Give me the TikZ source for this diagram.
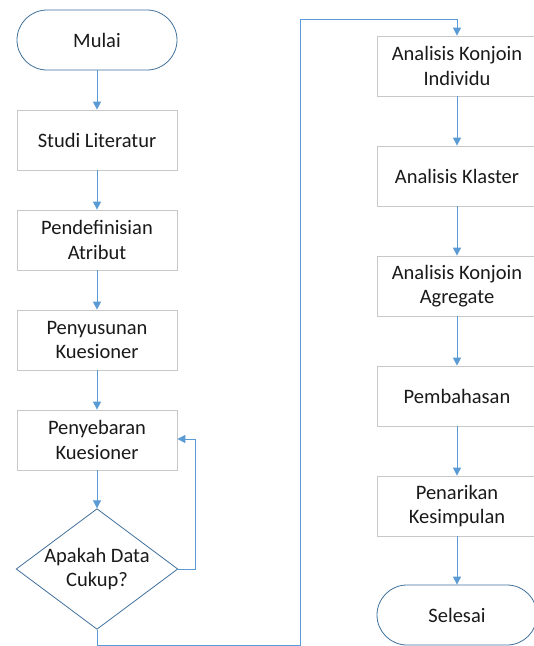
\documentclass[tikz,border=0pt]{standalone}
\usepackage{fontspec}
\setmainfont{Carlito}
\usetikzlibrary{shapes.geometric,arrows.meta}
\definecolor{lineblue}{HTML}{5B9BD5}
\definecolor{edgeblue}{HTML}{41719C}
\definecolor{boxgrey}{HTML}{C8C8C8}
\definecolor{txt}{HTML}{1A1A1A}
\begin{document}
\begin{tikzpicture}[x=1pt,y=-1pt,
  every node/.style={font=\fontsize{20.5}{24.5}\selectfont, text=txt, align=center, inner sep=0pt},
  procbox/.style={draw=boxgrey, line width=0.8pt, fill=white, minimum width=160pt, minimum height=60pt},
  term/.style={draw=edgeblue, line width=0.8pt, fill=white, rounded corners=30pt, minimum width=160pt, minimum height=60pt},
  decis/.style={draw=edgeblue, line width=0.8pt, fill=white, diamond, aspect=1.34, minimum width=160pt, minimum height=119pt},
  conn/.style={draw=lineblue, line width=1pt, -{Triangle[width=8pt,length=8pt]}},
  plainconn/.style={draw=lineblue, line width=1pt}]
\useasboundingbox (0,0) rectangle (534,646);
\fill[white] (0,0) rectangle (534,646);
% left column
\node[term] (mulai) at (97,40) {Mulai};
\node[procbox] (studi) at (97,140) {Studi Literatur};
\node[procbox] (atribut) at (97,240) {Pendefinisian\\Atribut};
\node[procbox] (susun) at (97,340) {Penyusunan\\Kuesioner};
\node[procbox] (sebar) at (97,440) {Penyebaran\\Kuesioner};
\node[decis] (cukup) at (97,569) {Apakah Data\\Cukup?};
% right column
\node[procbox] (indiv) at (457,66) {Analisis Konjoin\\Individu};
\node[procbox] (klaster) at (457,176) {Analisis Klaster};
\node[procbox] (agregat) at (457,286) {Analisis Konjoin\\Agregate};
\node[procbox] (bahas) at (457,396) {Pembahasan};
\node[procbox] (tarik) at (457,506) {Penarikan\\Kesimpulan};
\node[term] (selesai) at (457,615) {Selesai};
% coordinates for routing
\coordinate (c1) at (97,645);
\coordinate (c2) at (300,645);
\coordinate (c3) at (300,19);
\coordinate (c4) at (457,19);
\coordinate (loopR) at (195,569);
\coordinate (loopT) at (195,439);
% connectors
\draw[conn] (mulai) -- (studi);
\draw[conn] (studi) -- (atribut);
\draw[conn] (atribut) -- (susun);
\draw[conn] (susun) -- (sebar);
\draw[conn] (sebar) -- (cukup);
\draw[conn] (cukup.east) -- (loopR) -- (loopT) -- (sebar.east |- loopT);
\draw[conn] (cukup.south) -- (c1) -- (c2) -- (c3) -- (c4) -- (indiv.north);
\draw[conn] (indiv) -- (klaster);
\draw[conn] (klaster) -- (agregat);
\draw[conn] (agregat) -- (bahas);
\draw[conn] (bahas) -- (tarik);
\draw[conn] (tarik) -- (selesai);
\end{tikzpicture}
\end{document}
